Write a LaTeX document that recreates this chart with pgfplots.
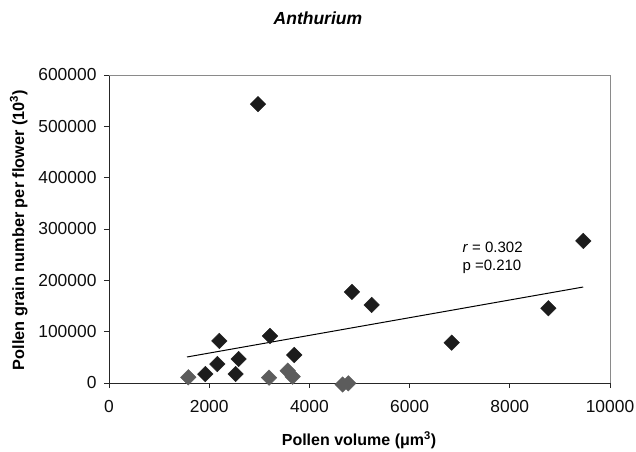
\documentclass[border=0pt]{standalone}
\usepackage{pgfplots}
\pgfplotsset{compat=1.18}
\usepackage{fontspec}
\setmainfont{Liberation Sans}
\definecolor{darkpt}{HTML}{1C1C1C}
\definecolor{greypt}{HTML}{5C5C5C}
\definecolor{frame}{HTML}{8A8A8A}
\begin{document}
\begin{tikzpicture}[x=1pt,y=1pt]
\path[use as bounding box] (-109,-68) rectangle (527,383);
\begin{axis}[
  at={(0,0)}, anchor=south west,
  scale only axis, width=501pt, height=308pt,
  xmin=0, xmax=10000, ymin=0, ymax=600000,
  xtick={0,2000,...,10000},
  ytick={0,100000,...,600000},
  scaled ticks=false,
  /pgf/number format/.cd, fixed, precision=0, 1000 sep={}, assume math mode=true, /pgfplots/.cd,
  axis lines=left,
  axis line style={-, line width=0.9pt, color=black!85},
  tick align=outside,
  major tick length=5pt,
  tick style={line width=0.8pt, color=black!85},
  ticklabel style={font=\fontsize{17.4}{19}\selectfont, color=black!95},
  xticklabel style={yshift=-9pt},
  yticklabel style={xshift=-4pt},
  clip=false,
  title={\fontsize{17.5}{20}\selectfont\bfseries\itshape Anthurium},
  title style={at={(axis description cs:0.417,1.166)}, anchor=center},
  xlabel={\fontsize{16}{18}\selectfont\bfseries Pollen volume (μm\textsuperscript{3})},
  xlabel style={at={(axis description cs:0.499,-0.187)}, anchor=center},
  ylabel={\fontsize{16.3}{18}\selectfont\bfseries Pollen grain number per flower (10\textsuperscript{3})},
  ylabel style={at={(axis description cs:-0.180,0.497)}, anchor=center, rotate=0},
]
\draw[frame, line width=0.7pt] (rel axis cs:0,1) -- (rel axis cs:1,1) -- (rel axis cs:1,0);
% trend line
\addplot[black, line width=1pt] coordinates {(1557,50700) (9465,187000)};
% dark points
\addplot[only marks, mark=square*, mark size=5.5pt, mark options={rotate=45, fill=darkpt, draw=darkpt}]
coordinates {
(2974,543300) (2202,81900) (1922,17500) (2162,37000) (2528,17500)
(2588,46800) (3214,91600) (3697,54600) (4850,177400) (5243,152000)
(6840,78600) (8769,145600) (9468,276800)
};
% grey points
\addplot[only marks, mark=square*, mark size=5.5pt, mark options={rotate=45, fill=greypt, draw=greypt}]
coordinates {
(1583,11100) (3194,10400) (3567,24000) (3666,12300) (4663,-3000) (4776,-600)
};
\node[anchor=west, font=\fontsize{15}{17}\selectfont] at (axis cs:6986,265100) {\textit{r} = 0.302};
\node[anchor=west, font=\fontsize{15}{17}\selectfont] at (axis cs:6986,226100) {p =0.210};
\end{axis}
\end{tikzpicture}
\end{document}
